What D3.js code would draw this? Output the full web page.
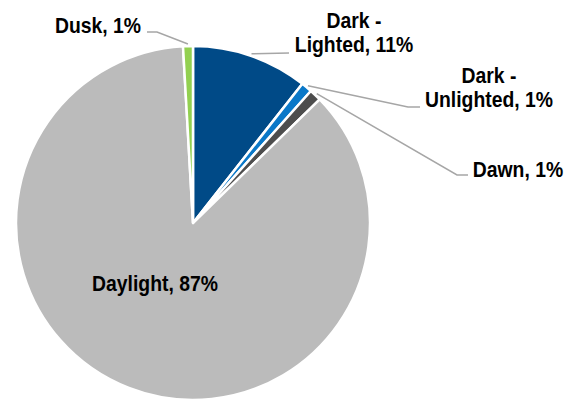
<!DOCTYPE html>
<html>
<head>
<meta charset="utf-8">
<script src="https://cdn.jsdelivr.net/npm/d3@7"></script>
<style>
  body { margin: 0; background: #fff; }
  text { font-family: "Liberation Sans", Arial, sans-serif; font-weight: bold; fill: #000; }
</style>
</head>
<body>
<svg id="pie"></svg>
<script>
// light conditions, share of crashes (%)
const categories = ["Dark - Lighted", "Dark - Unlighted", "Dawn", "Daylight", "Dusk"];
const shares = [10.6, 1.0, 1.1, 86.4, 0.9];
const labelLines = [["Dark -", "Lighted, 11%"], ["Dark -", "Unlighted, 1%"], ["Dawn, 1%"], ["Daylight, 87%"], ["Dusk, 1%"]];
const colors = ["#004A87", "#0A78C8", "#4D4D4D", "#BBBBBB", "#92D050"];

drawPie = () => {
  const width = 579, height = 400;
  const cx = 193, cy = 223, radius = 177;

  const svg = d3.select('#pie')
      .attr('width', width)
      .attr('height', height);

  const g = svg.append('g')
      .attr('transform', `translate(${cx},${cy})`);

  const data = categories.map((c, i) => ({cat: c, value: shares[i], i: i}));

  const pie = d3.pie().sort(null).value(d => d.value);
  const arc = d3.arc().innerRadius(0).outerRadius(radius);
  const arcs = pie(data);

  g.selectAll('path')
    .data(arcs)
    .join('path')
      .attr('d', arc)
      .attr('fill', d => colors[d.data.i])
      .attr('stroke', '#fff')
      .attr('stroke-width', 2.5)
      .attr('stroke-linejoin', 'round');

  // label placement (page coords): elbow + end of leader, text centre and first baseline
  const layout = [
    {leader: [[289, 53]], tx: 354, ty: 28},
    {leader: [[408, 107], [420, 107]], tx: 489, ty: 83},
    {leader: [[457, 175], [468, 175]], tx: 518, ty: 177},
    {leader: null, tx: 155, ty: 291},
    {leader: [[157, 32], [147, 32]], tx: 98, ty: 33}
  ];

  const lineGen = d3.line();
  const lineH = 24;

  arcs.forEach((a, i) => {
    const L = layout[i];
    if (L.leader) {
      const mid = (a.startAngle + a.endAngle) / 2;
      const start = [cx + Math.sin(mid) * (radius + 2), cy - Math.cos(mid) * (radius + 2)];
      svg.append('path')
        .attr('d', lineGen([start].concat(L.leader)))
        .attr('fill', 'none')
        .attr('stroke', '#A6A6A6')
        .attr('stroke-width', 1.5);
    }
    labelLines[i].forEach((s, k) => {
      svg.append('text')
        .attr('transform', `translate(${L.tx},${L.ty + k * lineH}) scale(0.88,1)`)
        .attr('text-anchor', 'middle')
        .attr('font-size', 22)
        .text(s);
    });
  });
};

window.onload = drawPie();
</script>
</body>
</html>
